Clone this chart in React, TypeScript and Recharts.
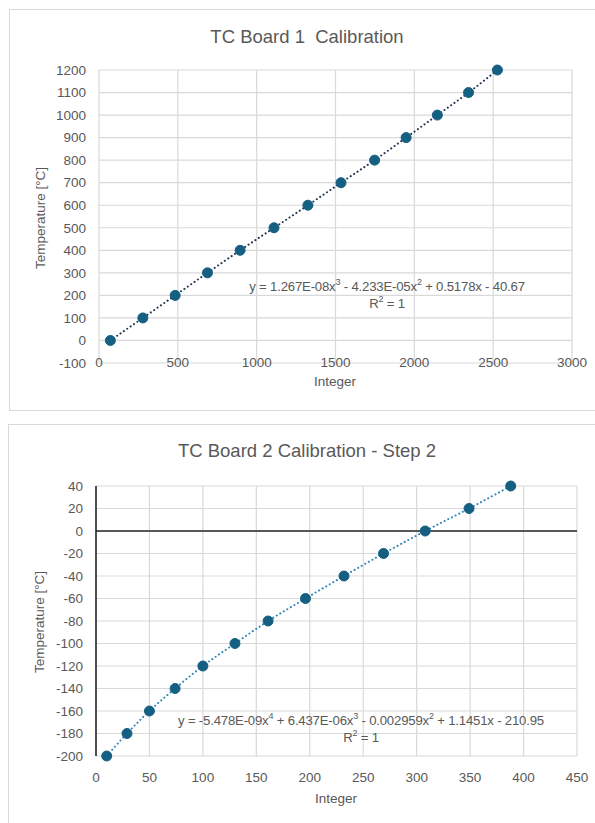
import { LineChart, Line, XAxis, YAxis, CartesianGrid, ReferenceLine } from 'recharts';

// TC board 1: raw integer reading vs. reference temperature
const board1Integer = [72, 278, 483, 688, 895, 1110, 1325, 1535, 1748, 1948, 2146, 2344, 2527];
const board1Temp = [0, 100, 200, 300, 400, 500, 600, 700, 800, 900, 1000, 1100, 1200];
const board1XTicks = [0, 500, 1000, 1500, 2000, 2500, 3000];
const board1YTicks = [-100, 0, 100, 200, 300, 400, 500, 600, 700, 800, 900, 1000, 1100, 1200];

// TC board 2, step 2
const board2Integer = [10, 29, 50, 74, 100, 130, 161, 196, 232, 269, 308, 349, 388];
const board2Temp = [-200, -180, -160, -140, -120, -100, -80, -60, -40, -20, 0, 20, 40];
const board2XTicks = [0, 50, 100, 150, 200, 250, 300, 350, 400, 450];
const board2YTicks = [-200, -180, -160, -140, -120, -100, -80, -60, -40, -20, 0, 20, 40];

const FONT = "'Liberation Sans', Arial, sans-serif";
const TEXT = '#595959';
const GRID = '#d9d9d9';
const MARKER = '#156082';

const toPoints = (xs: number[], ys: number[]) => xs.map((x, i) => ({ x, y: ys[i] }));

const tickStyle = { fill: TEXT, fontSize: 13.5, fontFamily: FONT };

function Caption({ x, y, size, children, rotate }: { x: number; y: number; size: number; children: React.ReactNode; rotate?: boolean }) {
  return (
    <div
      style={{
        position: 'absolute',
        left: x,
        top: y,
        transform: `translate(-50%, -50%)${rotate ? ' rotate(-90deg)' : ''}`,
        whiteSpace: 'nowrap',
        fontFamily: FONT,
        fontSize: size,
        color: TEXT,
        lineHeight: 1,
      }}
    >
      {children}
    </div>
  );
}

function Equation({ x, y, children }: { x: number; y: number; children: React.ReactNode }) {
  return (
    <div
      style={{
        position: 'absolute',
        left: x,
        top: y,
        transform: 'translate(-50%, -50%)',
        whiteSpace: 'nowrap',
        fontFamily: FONT,
        fontSize: 13.2,
        color: TEXT,
        lineHeight: '16.5px',
        textAlign: 'center',
        letterSpacing: -0.2,
      }}
    >
      {children}
    </div>
  );
}

const sup = { fontSize: 9, verticalAlign: 'super', lineHeight: 0 } as const;

export default function App() {
  const data1 = toPoints(board1Integer, board1Temp);
  const data2 = toPoints(board2Integer, board2Temp);

  return (
    <div style={{ position: 'absolute', left: 0, top: 0, width: 595, height: 823, background: '#fff', overflow: 'hidden' }}>
      {/* chart 1 frame */}
      <div style={{ position: 'absolute', left: 9, top: 9, width: 600, height: 400, border: `1px solid ${GRID}` }} />
      <div style={{ position: 'absolute', left: 0, top: 0 }}>
        <LineChart width={595} height={410} data={data1} margin={{ top: 70, right: 23, left: 39, bottom: 27 }}>
          <CartesianGrid stroke={GRID} strokeWidth={1.2} />
          <XAxis
            type="number"
            dataKey="x"
            domain={[0, 3000]}
            ticks={board1XTicks}
            interval={0}
            axisLine={false}
            tickLine={false}
            tickSize={0}
            tickMargin={-6}
            height={20}
            tick={tickStyle}
          />
          <YAxis
            type="number"
            domain={[-100, 1200]}
            ticks={board1YTicks}
            interval={0}
            axisLine={false}
            tickLine={false}
            tickSize={0}
            tickMargin={13}
            width={60}
            tick={tickStyle}
          />
          <Line
            dataKey="y"
            stroke="none"
            dot={{ r: 5, fill: MARKER, stroke: MARKER, strokeWidth: 1 }}
            isAnimationActive={false}
          />
          <Line
            type="monotone"
            dataKey="y"
            stroke="#1f3553"
            strokeWidth={2}
            strokeDasharray="0.1 4"
            strokeLinecap="round"
            dot={false}
            activeDot={false}
            isAnimationActive={false}
          />
        </LineChart>
      </div>
      <Caption x={307} y={37} size={18.5}>TC Board 1&nbsp; Calibration</Caption>
      <Caption x={335} y={382} size={13.5}>Integer</Caption>
      <Caption x={41} y={218} size={13.5} rotate>Temperature [°C]</Caption>
      <Equation x={387} y={295}>
        y = 1.267E-08x<span style={sup}>3</span> - 4.233E-05x<span style={sup}>2</span> + 0.5178x - 40.67
        <br />
        R<span style={sup}>2</span> = 1
      </Equation>

      {/* chart 2 frame */}
      <div style={{ position: 'absolute', left: 8, top: 424, width: 600, height: 420, border: `1px solid ${GRID}` }} />
      <div style={{ position: 'absolute', left: 0, top: 414 }}>
        <LineChart width={595} height={409} data={data2} margin={{ top: 72, right: 18, left: 36, bottom: 47 }}>
          <CartesianGrid stroke={GRID} strokeWidth={1.2} />
          <XAxis
            type="number"
            dataKey="x"
            domain={[0, 450]}
            ticks={board2XTicks}
            interval={0}
            axisLine={false}
            tickLine={false}
            tickSize={0}
            tickMargin={16}
            height={20}
            tick={tickStyle}
          />
          <YAxis
            type="number"
            domain={[-200, 40]}
            ticks={board2YTicks}
            interval={0}
            axisLine={false}
            tickLine={false}
            tickSize={0}
            tickMargin={13}
            width={60}
            tick={tickStyle}
          />
          <ReferenceLine y={0} stroke="#262626" strokeWidth={1.6} />
          <ReferenceLine x={0} stroke="#262626" strokeWidth={1.6} />
          <Line
            dataKey="y"
            stroke="none"
            dot={{ r: 5, fill: MARKER, stroke: MARKER, strokeWidth: 1 }}
            isAnimationActive={false}
          />
          <Line
            type="monotone"
            dataKey="y"
            stroke="#2f86b8"
            strokeWidth={2}
            strokeDasharray="0.1 4"
            strokeLinecap="round"
            dot={false}
            activeDot={false}
            isAnimationActive={false}
          />
        </LineChart>
      </div>
      <Caption x={307} y={451} size={18.5}>TC Board 2 Calibration - Step 2</Caption>
      <Caption x={336} y={799} size={13.5}>Integer</Caption>
      <Caption x={40} y={622} size={13.5} rotate>Temperature [°C]</Caption>
      <Equation x={361} y={729}>
        y = -5.478E-09x<span style={sup}>4</span> + 6.437E-06x<span style={sup}>3</span> - 0.002959x<span style={sup}>2</span> + 1.1451x - 210.95
        <br />
        R<span style={sup}>2</span> = 1
      </Equation>
    </div>
  );
}
